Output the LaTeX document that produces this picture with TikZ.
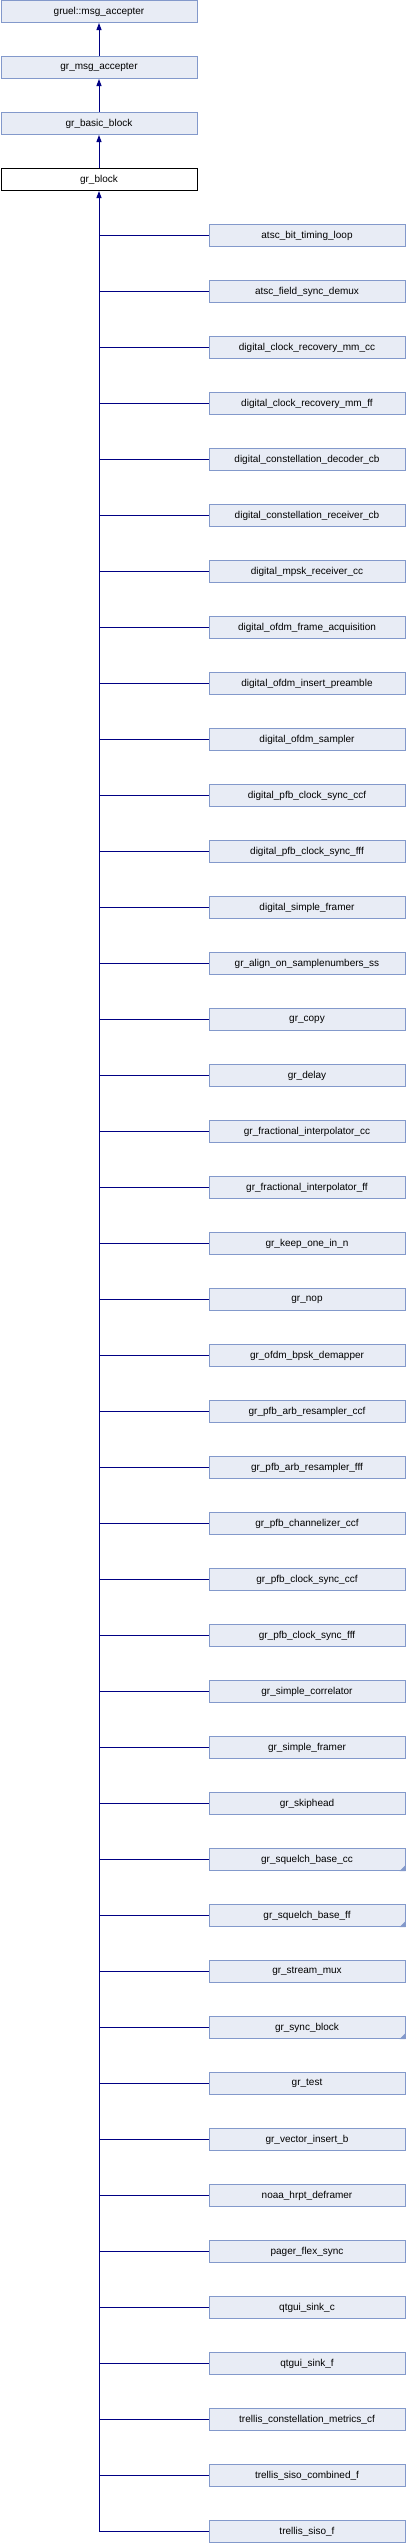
\documentclass[tikz,border=0pt]{standalone}
\usepackage{fontspec}
\setmainfont{Liberation Sans}
\usetikzlibrary{arrows.meta}
\definecolor{boxfill}{HTML}{E8ECF5}
\definecolor{boxline}{HTML}{8399CB}
\definecolor{edgeblue}{HTML}{000084}
\tikzset{
  classbox/.style={draw=boxline,fill=boxfill,line width=1pt,minimum width=196pt,minimum height=22pt,inner sep=0pt,font=\fontsize{10}{12}\selectfont},
  basebox/.style={classbox,draw=black,fill=white},
  edge/.style={draw=edgeblue,line width=1pt},
  uparrow/.style={edge,-{Triangle[width=5pt,length=7pt]}}
}
\begin{document}
\begin{tikzpicture}[x=1pt,y=-1pt]
                    \useasboundingbox (0,0) rectangle (406,2544);

                    \node[classbox] (gruel) at (99,11.5) {gruel::msg\_accepter};
                    \node[classbox] (msgacc) at (99,67.5) {gr\_msg\_accepter};
                    \node[classbox] (basic) at (99,123.5) {gr\_basic\_block};
                    \node[basebox] (blk) at (99,179.5) {gr\_block};

                    \draw[uparrow] (msgacc.north) -- (gruel.south);
                    \draw[uparrow] (basic.north) -- (msgacc.south);
                    \draw[uparrow] (blk.north) -- (basic.south);

                    \foreach \name [count=\i] in {atsc\_bit\_timing\_loop,atsc\_field\_sync\_demux,
                        digital\_clock\_recovery\_mm\_cc,digital\_clock\_recovery\_mm\_ff,
                        digital\_constellation\_decoder\_cb,digital\_constellation\_receiver\_cb,
                        digital\_mpsk\_receiver\_cc,digital\_ofdm\_frame\_acquisition,
                        digital\_ofdm\_insert\_preamble,digital\_ofdm\_sampler,
                        digital\_pfb\_clock\_sync\_ccf,digital\_pfb\_clock\_sync\_fff,
                        digital\_simple\_framer,gr\_align\_on\_samplenumbers\_ss,
                        gr\_copy,gr\_delay,gr\_fractional\_interpolator\_cc,
                        gr\_fractional\_interpolator\_ff,gr\_keep\_one\_in\_n,gr\_nop,
                        gr\_ofdm\_bpsk\_demapper,gr\_pfb\_arb\_resampler\_ccf,
                        gr\_pfb\_arb\_resampler\_fff,gr\_pfb\_channelizer\_ccf,
                        gr\_pfb\_clock\_sync\_ccf,gr\_pfb\_clock\_sync\_fff,
                        gr\_simple\_correlator,gr\_simple\_framer,gr\_skiphead,
                        gr\_squelch\_base\_cc,gr\_squelch\_base\_ff,gr\_stream\_mux,
                        gr\_sync\_block,gr\_test,gr\_vector\_insert\_b,
                        noaa\_hrpt\_deframer,pager\_flex\_sync,qtgui\_sink\_c,qtgui\_sink\_f,
                        trellis\_constellation\_metrics\_cf,trellis\_siso\_combined\_f,
                        trellis\_siso\_f}
                    {
                        \node[classbox] (c\i) at (307,{235.5+56*(\i-1)}) {\name};
                        \draw[edge] (blk.south |- c\i.west) -- (c\i.west);
                    }

                    \draw[edge,{Triangle[width=5pt,length=7pt]}-] (blk.south) -- (blk.south |- c42.west);

                    \foreach \j in {30,31,33}
                        \fill[boxline] (c\j.south east) -- ++(-6,0) -- ++(6,-6) -- cycle;
                \end{tikzpicture}
\end{document}
